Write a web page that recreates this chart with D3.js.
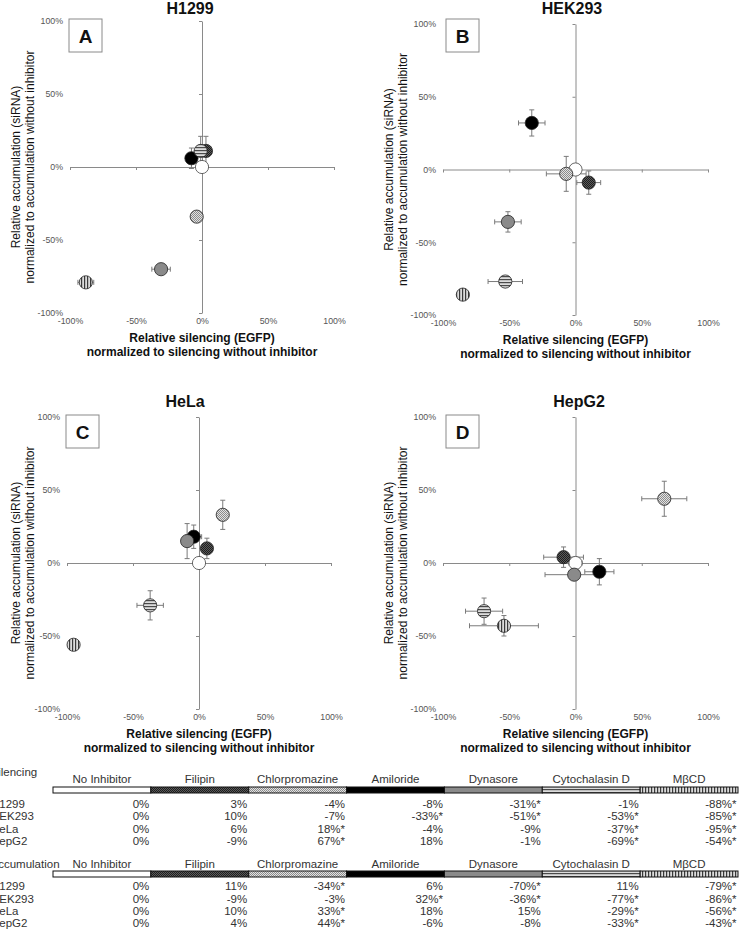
<!DOCTYPE html>
<html><head><meta charset="utf-8">
<script src="https://cdn.jsdelivr.net/npm/d3@7"></script>
<style>body{margin:0;background:#fff}svg{display:block;font-family:"Liberation Sans",Arial,sans-serif}</style>
</head><body><svg id="c" width="741" height="930"></svg>
<script>
// ---------- data ----------
const inhibitors = ["No Inhibitor","Filipin","Chlorpromazine","Amiloride","Dynasore","Cytochalasin D","MβCD"];
const cellLines = ["H1299","HEK293","HeLa","HepG2"];
const panelLetters = ["A","B","C","D"];
// relative silencing (EGFP), % (x)
const silencing = [
  [0, 3, -4, -8, -31, -1, -88],
  [0, 10, -7, -33, -51, -53, -85],
  [0, 6, 18, -4, -9, -37, -95],
  [0, -9, 67, 18, -1, -69, -54]
];
// relative accumulation (siRNA), % (y)
const accumulation = [
  [0, 11, -34, 6, -70, 11, -79],
  [0, -9, -3, 32, -36, -77, -86],
  [0, 10, 33, 18, 15, -29, -56],
  [0, 4, 44, -6, -8, -33, -43]
];
const silencingSig = [
  [0,0,0,0,1,0,1],
  [0,0,0,1,1,1,1],
  [0,0,1,0,0,1,1],
  [0,0,1,0,0,1,1]
];
const accumulationSig = [
  [0,0,1,0,1,0,1],
  [0,0,0,1,1,1,1],
  [0,0,1,0,0,1,1],
  [0,0,1,0,0,1,1]
];
// estimated error bars, %
const silencingErr = [
  [1, 2, 2, 2, 7, 2, 6],
  [1, 9, 15, 10, 10, 13, 3],
  [1, 3, 3, 6, 4, 10, 3],
  [5, 15, 17, 11, 22, 14, 26]
];
const accumulationErr = [
  [1, 10, 3, 7, 2, 10, 2],
  [1, 8, 12, 9, 7, 2, 2],
  [1, 7, 10, 8, 12, 10, 2],
  [3, 7, 12, 9, 2, 9, 7]
];
const axisTicks = [-100, -50, 0, 50, 100];
const sectionTitles = ["Silencing", "Accumulation"];

// ---------- layout ----------
const layout = [
  {x0:70, x1:334, y0:21, y1:313, tx:190, ty:8, lx:16},
  {x0:443, x1:708, y0:24, y1:315, tx:572, ty:8, lx:389},
  {x0:67, x1:331, y0:417, y1:709, tx:185, ty:401, lx:16},
  {x0:443, x1:708, y0:417, y1:709, tx:579, ty:401, lx:389}
];
const fills = ["#fff","url(#pFil)","url(#pChl)","#000","#8a8a8a","url(#pCyt)","url(#pMb)"];
const pct = d => Math.round(d) + "%";

const svg = d3.select("#c");
const defs = svg.append("defs");
// patterns
function checker(id, bg, fg){
  const p = defs.append("pattern").attr("id", id).attr("patternUnits","userSpaceOnUse").attr("width",2).attr("height",2);
  p.append("rect").attr("width",2).attr("height",2).attr("fill",bg);
  p.append("rect").attr("width",1).attr("height",1).attr("fill",fg);
  p.append("rect").attr("x",1).attr("y",1).attr("width",1).attr("height",1).attr("fill",fg);
}
checker("pFil", "#5a5a5a", "#1e1e1e");
checker("pChl", "#e2e2e2", "#8c8c8c");
{
  const p = defs.append("pattern").attr("id","pCyt").attr("patternUnits","userSpaceOnUse").attr("width",4).attr("height",3);
  p.append("rect").attr("width",4).attr("height",3).attr("fill","#dcdcdc");
  p.append("rect").attr("width",4).attr("height",1.2).attr("fill","#4a4a4a");
  const q = defs.append("pattern").attr("id","pMb").attr("patternUnits","userSpaceOnUse").attr("width",3).attr("height",4);
  q.append("rect").attr("width",3).attr("height",4).attr("fill","#dcdcdc");
  q.append("rect").attr("width",1.2).attr("height",4).attr("fill","#3a3a3a");
}

cellLines.forEach((cl, pi) => {
  const L = layout[pi];
  const g = svg.append("g");
  const x = d3.scaleLinear().domain([-100, 100]).range([L.x0, L.x1]);
  const y = d3.scaleLinear().domain([-100, 100]).range([L.y1, L.y0]);

  // tick labels (outside)
  const yl = g.append("g").attr("transform", `translate(${L.x0},0)`)
    .call(d3.axisLeft(y).tickValues(axisTicks).tickFormat(pct).tickSize(0).tickPadding(7));
  yl.select(".domain").remove();
  yl.selectAll("text").attr("font-size", 8.8).attr("fill", "#555").attr("font-family", "Liberation Sans, Arial, sans-serif");
  const xl = g.append("g").attr("transform", `translate(0,${L.y1})`)
    .call(d3.axisBottom(x).tickValues(axisTicks).tickFormat(pct).tickSize(0).tickPadding(5));
  xl.select(".domain").remove();
  xl.selectAll("text").attr("font-size", 8.8).attr("fill", "#555").attr("font-family", "Liberation Sans, Arial, sans-serif");

  // crossing axes
  const ya = g.append("g").attr("transform", `translate(${x(0)},0)`)
    .call(d3.axisLeft(y).tickValues([-100,-50,50,100]).tickFormat("").tickSize(3).tickSizeOuter(0));
  const xa = g.append("g").attr("transform", `translate(0,${y(0)})`)
    .call(d3.axisBottom(x).tickValues([-100,-50,50,100]).tickFormat("").tickSize(3).tickSizeOuter(0));
  [ya, xa].forEach(a => { a.selectAll("path,line").attr("stroke", "#8a8a8a").attr("stroke-width", 1); });

  // title
  g.append("text").attr("x", L.tx).attr("y", L.ty).attr("text-anchor","middle").attr("dominant-baseline","central")
    .attr("font-size", 16).attr("font-weight","bold").attr("fill","#111").text(cl);
  // letter box
  const bx = L.x0 - 1 + (pi % 2 ? 4 : 0), by = L.y0 - 2 + (pi === 1 ? -3 : 0);
  g.append("rect").attr("x", bx).attr("y", by).attr("width", 33).attr("height", 33)
    .attr("fill","#fff").attr("stroke","#8a8a8a").attr("stroke-width",1);
  g.append("text").attr("x", bx + 16.5).attr("y", by + 17)
    .attr("text-anchor","middle").attr("dominant-baseline","central")
    .attr("font-size", 19).attr("font-weight","bold").attr("fill","#111").text(panelLetters[pi]);

  // y axis title
  const cy = (L.y0 + L.y1) / 2;
  g.append("text").attr("transform", `translate(${L.lx},${cy}) rotate(-90)`).attr("text-anchor","middle").attr("dominant-baseline","central")
    .attr("font-size", 12).attr("fill","#111").text("Relative accumulation  (siRNA)");
  g.append("text").attr("transform", `translate(${L.lx + 14},${cy}) rotate(-90)`).attr("text-anchor","middle").attr("dominant-baseline","central")
    .attr("font-size", 12).attr("fill","#111").text("normalized to accumulation without inhibitor");
  // x axis title
  const cx = (L.x0 + L.x1) / 2;
  g.append("text").attr("x", cx).attr("y", L.y1 + 25).attr("text-anchor","middle").attr("dominant-baseline","central")
    .attr("font-size", 12).attr("font-weight","bold").attr("fill","#111").text("Relative silencing (EGFP)");
  g.append("text").attr("x", cx).attr("y", L.y1 + 38.5).attr("text-anchor","middle").attr("dominant-baseline","central")
    .attr("font-size", 12).attr("font-weight","bold").attr("fill","#111").text("normalized to silencing without inhibitor");

  // points data
  const pts = inhibitors.map((name, i) => ({
    i, name, sx: silencing[pi][i], ay: accumulation[pi][i],
    ex: silencingErr[pi][i], ey: accumulationErr[pi][i]
  }));
  const eb = g.append("g").attr("stroke","#7a7a7a").attr("stroke-width",1).attr("fill","none");
  const cap = 2.5;
  pts.forEach(p => {
    const px = x(p.sx), py = y(p.ay);
    const xa1 = x(p.sx - p.ex), xa2 = x(p.sx + p.ex);
    const ya1 = y(p.ay - p.ey), ya2 = y(p.ay + p.ey);
    eb.append("path").attr("d",
      `M${xa1},${py}H${xa2}M${xa1},${py-cap}V${py+cap}M${xa2},${py-cap}V${py+cap}` +
      `M${px},${ya1}V${ya2}M${px-cap},${ya1}H${px+cap}M${px-cap},${ya2}H${px+cap}`);
  });
  g.append("g").selectAll("circle").data(pts).join("circle")
    .attr("cx", d => x(d.sx)).attr("cy", d => y(d.ay)).attr("r", 6.6)
    .attr("fill", d => fills[d.i])
    .attr("stroke", d => d.i === 0 ? "#444" : "#222").attr("stroke-width", 0.8);
});

// ---------- table ----------
const col = d3.scaleBand().domain(inhibitors).range([53, 738]);
const sections = [
  {title: sectionTitles[0], vals: silencing, sig: silencingSig, ty: 772, hy: 779, by: 787, rows: [803.5, 816, 828.5, 840.5]},
  {title: sectionTitles[1], vals: accumulation, sig: accumulationSig, ty: 864, hy: 863.5, by: 871, rows: [886, 898.5, 911, 923]}
];
const tg = svg.append("g").attr("font-size", 11.5).attr("fill", "#333");
sections.forEach(s => {
  tg.append("text").attr("x", -9.5).attr("y", s.ty).attr("dominant-baseline","central").text(s.title);
  inhibitors.forEach((name, i) => {
    tg.append("text").attr("x", col(name) + col.bandwidth()/2).attr("y", s.hy).attr("text-anchor","middle")
      .attr("dominant-baseline","central").text(name);
    tg.append("rect").attr("x", col(name)).attr("y", s.by).attr("width", col.bandwidth()).attr("height", 6)
      .attr("fill", fills[i]).attr("stroke", "#111").attr("stroke-width", 1);
  });
  cellLines.forEach((cl, r) => {
    tg.append("text").attr("x", -9).attr("y", s.rows[r]).attr("dominant-baseline","central").text(cl);
    inhibitors.forEach((name, i) => {
      tg.append("text").attr("x", col(name) + col.bandwidth() - 1.5).attr("y", s.rows[r]).attr("text-anchor","end")
        .attr("dominant-baseline","central").text(pct(s.vals[r][i]) + (s.sig[r][i] ? "*" : ""));
    });
  });
});
</script></body></html>
